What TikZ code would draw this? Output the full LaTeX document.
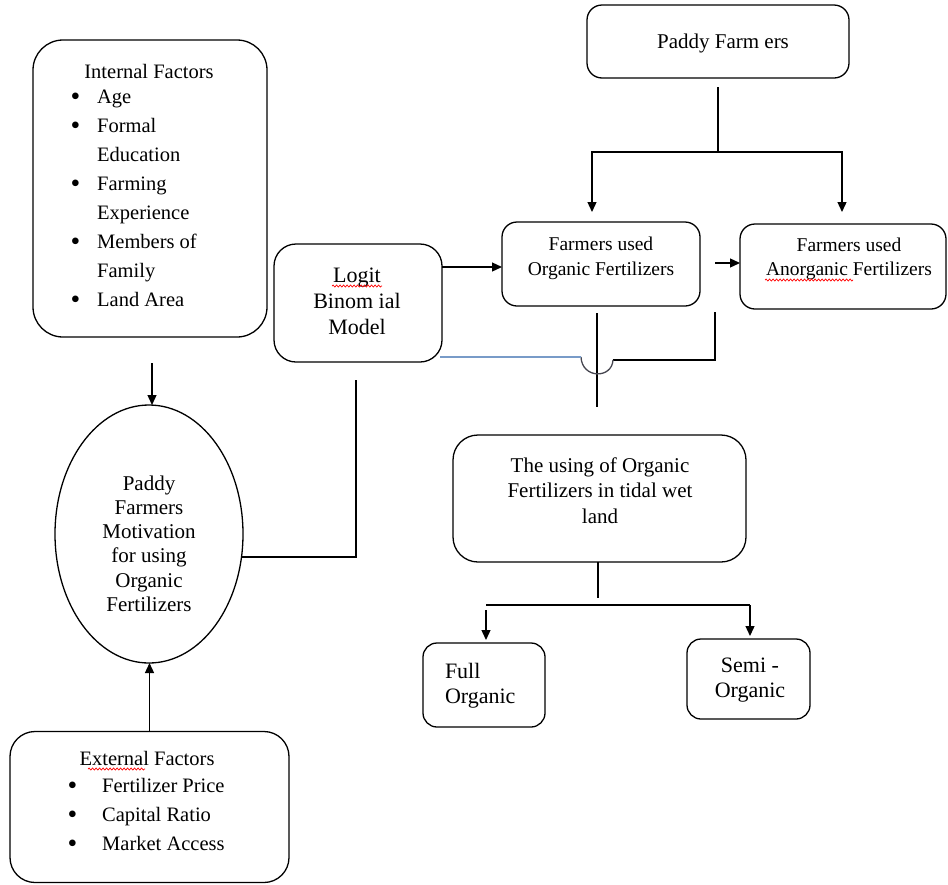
\documentclass[tikz,border=0pt]{standalone}
\usepackage{fontspec}
\setmainfont{Liberation Serif}
\usetikzlibrary{arrows.meta,shapes.geometric,decorations.pathmorphing}
\definecolor{jumpblue}{RGB}{120,155,200}
\definecolor{jumpgray}{RGB}{70,70,80}
\newcommand\fs[2]{\fontsize{#1pt}{#2pt}\selectfont}
\newcommand\bul{\raisebox{-2.3pt}{\scalebox{1.35}{\textbullet}}}
\tikzset{
  rbox/.style={draw, line width=1.3pt, inner sep=0pt, outer sep=0pt, rounded corners=15pt},
  txt/.style={inner sep=0pt, outer sep=0pt, anchor=base},
  conn/.style={line width=1.3pt},
  arr/.style={line width=1.3pt, -{Triangle[length=10pt,width=9pt]}},
  squiggle/.style={red, line width=0.7pt, decorate, decoration={snake, amplitude=1pt, segment length=3.5pt}},
}
\begin{document}
\begin{tikzpicture}[x=1pt,y=-1pt]
\useasboundingbox (0,0) rectangle (948,884);
\renewcommand\arraystretch{1}
% boxes
\node[rbox, rounded corners=30pt, minimum width=234pt, minimum height=297pt] (intf) at (150,188.5) {};
\node[rbox, rounded corners=25pt, minimum width=279pt, minimum height=151pt] (ext) at (149.5,807) {};
\node[rbox, rounded corners=22pt, minimum width=168pt, minimum height=118pt] (lg) at (358,303) {};
\node[rbox, minimum width=262pt, minimum height=73pt] (pf) at (718,41.5) {};
\node[rbox, minimum width=198pt, minimum height=84pt] (org) at (601,264) {};
\node[rbox, minimum width=206pt, minimum height=85pt] (anorg) at (843,266.5) {};
\node[rbox, rounded corners=25pt, minimum width=293pt, minimum height=127pt] (tid) at (599.5,498.5) {};
\node[rbox, rounded corners=14pt, minimum width=122pt, minimum height=84pt] (fo) at (484,685) {};
\node[rbox, rounded corners=14pt, minimum width=123pt, minimum height=80pt] (so) at (748.5,679) {};
\node[draw, ellipse, line width=1.3pt, inner sep=0pt, outer sep=0pt, minimum width=188pt, minimum height=258pt] (ell) at (149,534) {};

% texts
\node[txt] (intft) at (149,78) {\fs{20.5}{29}Internal Factors};
\node[txt, anchor=base west] (intfl) at (70.5,103) {\fs{20.5}{29}\begin{tabular}[t]{@{}l@{\hspace{17pt}}l@{}}
\bul & Age\\
\bul & Formal\\
 & Education\\
\bul & Farming\\
 & Experience\\
\bul & Members of\\
 & Family\\
\bul & Land Area
\end{tabular}};
\node[txt] (extt) at (147,765) {\fs{20.5}{29}External Factors};
\node[txt, anchor=base west] (extl) at (67.5,792) {\fs{20.5}{29}\begin{tabular}[t]{@{}l@{\hspace{25pt}}l@{}}
\bul & Fertilizer Price\\
\bul & Capital Ratio\\
\bul & Market Access
\end{tabular}};
\node[txt] (lgt) at (357,282) {\fs{22}{26}\begin{tabular}[t]{@{}c@{}}Logit\\Binom ial\\Model\end{tabular}};
\node[txt] (pft) at (723,48) {\fs{21}{25}Paddy Farm ers};
\node[txt] (orgt) at (601,250) {\fs{19.5}{25}\begin{tabular}[t]{@{}c@{}}Farmers used\\Organic Fertilizers\end{tabular}};
\node[txt] (anorgt) at (849,251.5) {\fs{19.5}{24}\begin{tabular}[t]{@{}c@{}}Farmers used\\Anorganic Fertilizers\end{tabular}};
\node[txt] (tidt) at (600,472) {\fs{21}{25.5}\begin{tabular}[t]{@{}c@{}}The using of Organic\\Fertilizers in tidal wet\\land\end{tabular}};
\node[txt] (ellt) at (149,490) {\fs{21}{24.3}\begin{tabular}[t]{@{}c@{}}Paddy\\Farmers\\Motivation\\for using\\Organic\\Fertilizers\end{tabular}};
\node[txt, anchor=base west] (fot) at (445,678) {\fs{22}{25}\begin{tabular}[t]{@{}l@{}}Full\\Organic\end{tabular}};
\node[txt] (sot) at (750,672) {\fs{22}{25}\begin{tabular}[t]{@{}c@{}}Semi -\\Organic\end{tabular}};

% spell-check squiggles
\draw[squiggle] (332,286) -- (382,286);
\draw[squiggle] (88,769) -- (145,769);
\draw[squiggle] (765,280) -- (853,280);

% connectors: left column
\coordinate (a1) at (152,363);
\draw[arr] (a1) -- (a1 |- ell.north);
\draw[arr] (ext.north) -- (ext.north |- ell.south);
\coordinate (lgfoot) at (356,380);
\draw[conn] (ell.-14) -- (ell.-14 -| lgfoot) -- (lgfoot);

% Logit -> organic, organic -> anorganic
\draw[arr] (lg.east |- 0,267) -- (org.west |- 0,267);
\draw[arr] ([xshift=15pt]org.east |- 0,263) -- (anorg.west |- 0,263);

% paddy farmers split
\coordinate (pfj) at (718,152);
\coordinate (t1) at (592,212);
\coordinate (t2) at (842,212);
\draw[conn] ([yshift=-9pt]pf.south) -- (pfj);
\draw[arr] (pfj) -| (t1);
\draw[arr] (pfj) -| (t2);

% organic vertical and anorganic connector with jump
\coordinate (v1) at (597,313);
\coordinate (v2) at (597,407);
\draw[conn] (v1) -- (v2);
\coordinate (w1) at (715,312);
\coordinate (w2) at (715,360);
\coordinate (w3) at (613,360);
\coordinate (u1) at (581,357);
\coordinate (b1) at (440,357);
\draw[conn] (w1) -- (w2) -- (w3);
\draw[conn, jumpgray] (w3) .. controls (612,379) and (582,379) .. (u1);
\draw[line width=1.3pt, jumpblue] (u1) -- (b1);

% tidal split
\coordinate (s0) at (598,598);
\coordinate (h1) at (486,605);
\coordinate (h2) at (750,605);
\draw[conn] (tid.south -| s0) -- (s0);
\draw[conn] (h1) -- (h2);
\draw[arr] ([yshift=-5pt]h1) -- (h1 |- 0,640);
\draw[arr] (h2) -- (h2 |- 0,636);
\end{tikzpicture}
\end{document}
